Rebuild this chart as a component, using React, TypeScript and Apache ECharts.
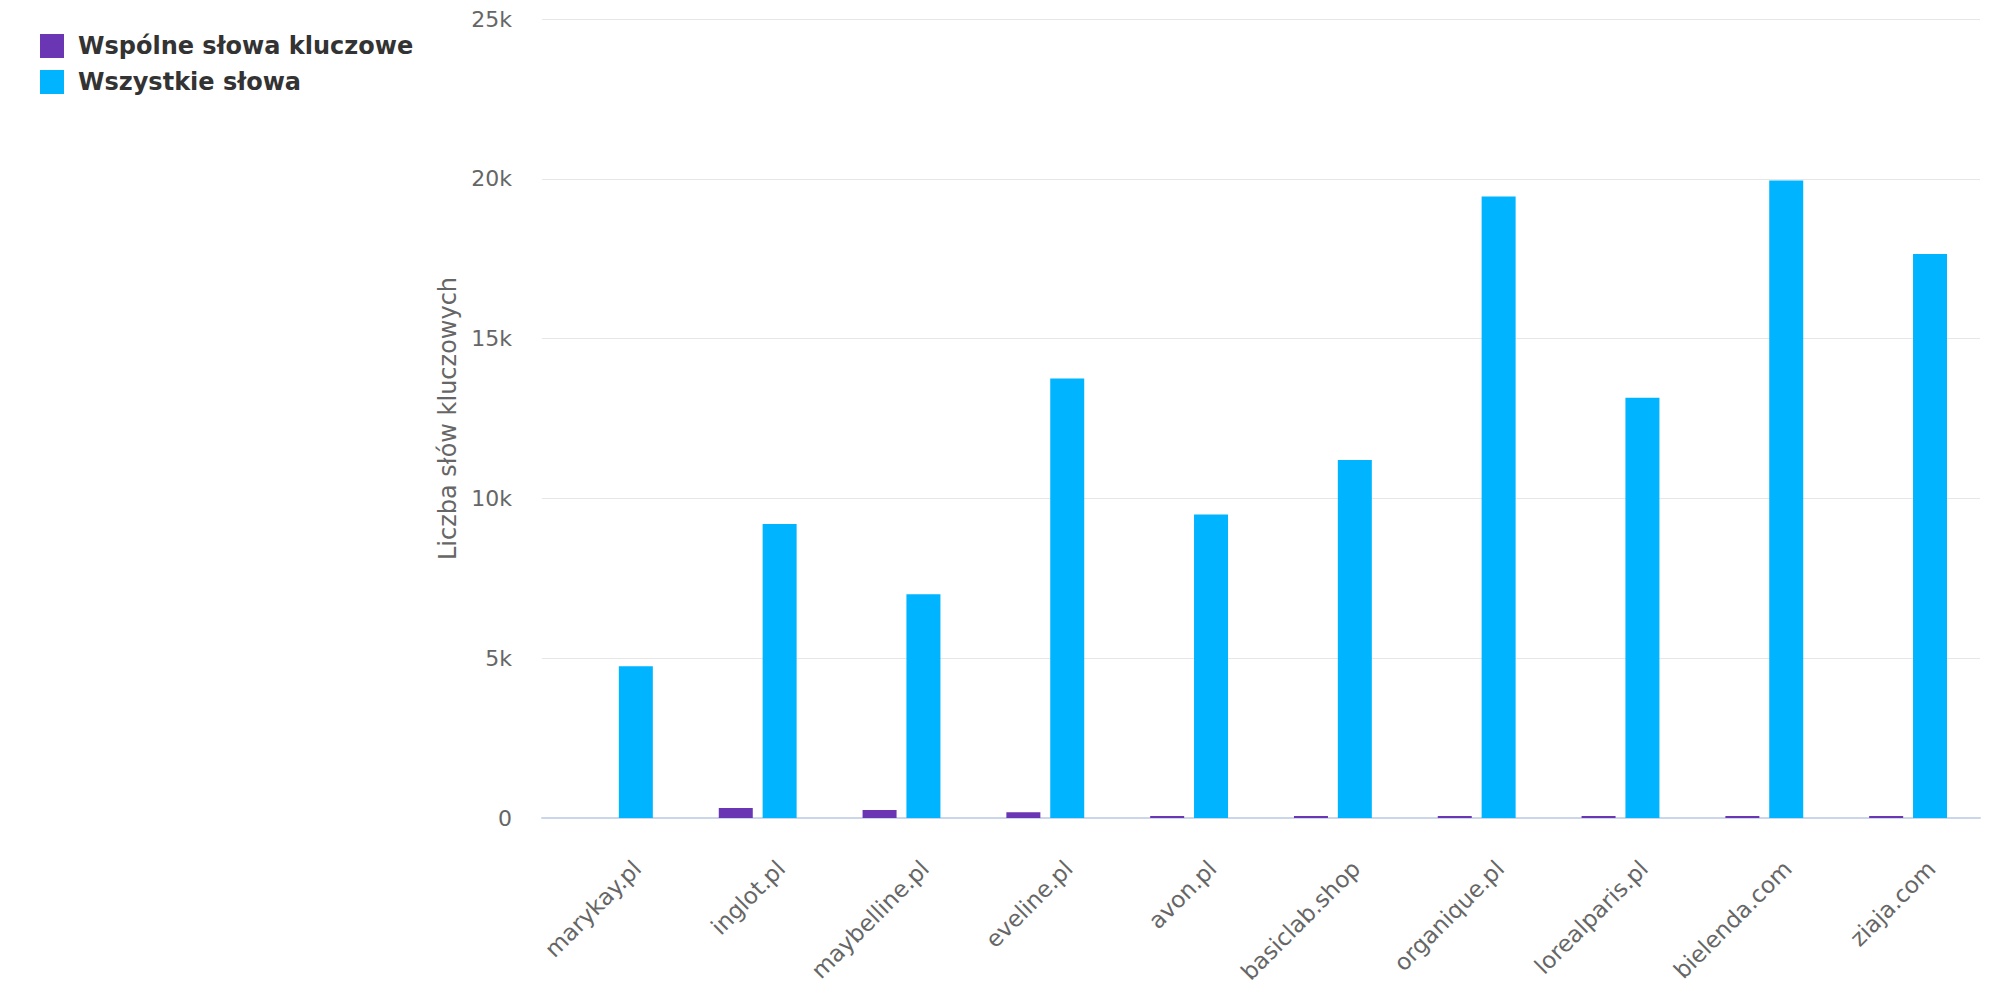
import React, { useEffect, useRef } from "react";
import * as echarts from "echarts";

const categories = [
  "marykay.pl",
  "inglot.pl",
  "maybelline.pl",
  "eveline.pl",
  "avon.pl",
  "basiclab.shop",
  "organique.pl",
  "lorealparis.pl",
  "bielenda.com",
  "ziaja.com",
];
const commonKeywords = [0, 310, 250, 180, 60, 60, 60, 60, 60, 60];
const allKeywords = [4750, 9200, 7000, 13750, 9500, 11200, 19450, 13150, 19950, 17650];
const seriesNames = ["Wspólne słowa kluczowe", "Wszystkie słowa"];
const yAxisName = "Liczba słów kluczowych";

const FONT = "DejaVu Sans";

export default function App() {
  const ref = useRef<HTMLDivElement>(null);
  useEffect(() => {
    document.body.style.margin = "0";
    if (!ref.current) return;
    const chart = echarts.init(ref.current, undefined, { renderer: "svg" });
    chart.setOption({
      animation: false,
      textStyle: { fontFamily: FONT },
      legend: {
        orient: "vertical",
        left: 40,
        top: 34,
        padding: 0,
        itemWidth: 24,
        itemHeight: 24,
        itemGap: 12,
        icon: "rect",
        textStyle: {
          fontFamily: FONT,
          fontSize: 24,
          fontWeight: "bold",
          color: "#333333",
          padding: [0, 0, 0, 9],
          lineHeight: 24,
        },
        data: seriesNames,
      },
      grid: {
        left: 542,
        right: 20,
        top: 19,
        bottom: 182,
        containLabel: false,
        outerBoundsMode: "none",
      },
      xAxis: {
        type: "category",
        data: categories,
        axisTick: { show: false },
        axisLine: { show: true, lineStyle: { color: "#ccd6eb", width: 2 } },
        axisLabel: {
          interval: 0,
          rotate: 45,
          margin: 70,
          fontFamily: FONT,
          fontSize: 23,
          color: "#666666",
          padding: [0, -33, 0, 0],
        },
      },
      yAxis: {
        type: "value",
        min: 0,
        max: 25000,
        interval: 5000,
        name: yAxisName,
        nameLocation: "middle",
        nameGap: 80,
        nameTextStyle: { fontFamily: FONT, fontSize: 24, color: "#666666" },
        axisLine: { show: false },
        axisTick: { show: false },
        splitLine: { lineStyle: { color: "#e6e6e6", width: 1 } },
        axisLabel: {
          margin: 30,
          fontFamily: FONT,
          fontSize: 22,
          color: "#666666",
          formatter: (v: number) => (v === 0 ? "0" : v / 1000 + "k"),
        },
      },
      series: [
        {
          name: seriesNames[0],
          type: "bar",
          data: commonKeywords,
          barWidth: 34,
          barGap: "29%",
          itemStyle: { color: "#6a36b4" },
        },
        {
          name: seriesNames[1],
          type: "bar",
          data: allKeywords,
          barWidth: 34,
          barGap: "29%",
          itemStyle: { color: "#00b4ff" },
        },
      ],
    });
    return () => chart.dispose();
  }, []);
  return <div ref={ref} style={{ width: 2000, height: 1000 }} />;
}
